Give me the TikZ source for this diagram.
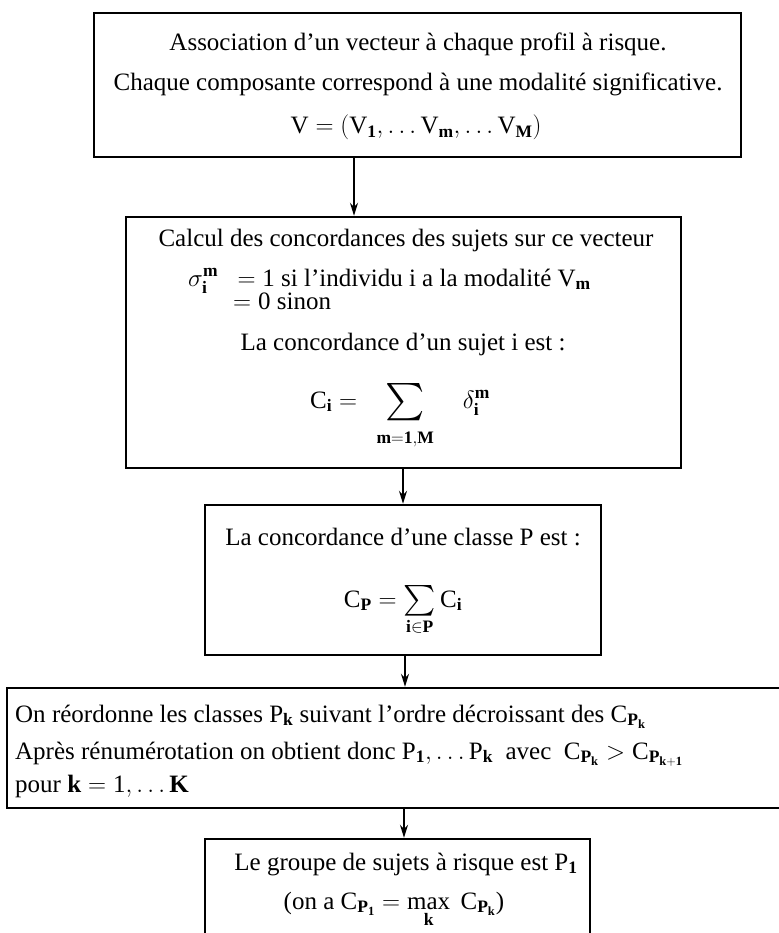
\RequirePackage{fix-cm}
\documentclass[tikz,border=0pt]{standalone}
\usepackage{amsmath}
\usepackage{fontspec}
\setmainfont{Liberation Serif}
\usetikzlibrary{arrows.meta}
\tikzset{
	boite/.style={draw, line width=2.4pt, inner sep=0pt},
	texte/.style={font=\fontsize{25}{29}\selectfont, inner sep=0pt, anchor=base},
	gauche/.style={texte, anchor=base west},
	fleche/.style={-{Stealth[length=13pt, width=8pt]}, line width=1.8pt},
}
\newcommand{\bsub}[1]{\mathbf{#1}}
\newcommand{\somme}[1]{\mathop{\vcenter{\hbox{\resizebox{!}{#1}{$\sum$}}}}}

\begin{document}
\begin{tikzpicture}[x=1pt, y=-1pt]
	\useasboundingbox (0,0) rectangle (778,933);
	% cadres
	\node[boite, minimum width=647pt, minimum height=144pt] (vecteur) at (417.5,85) {};
	\node[boite, minimum width=555pt, minimum height=251pt] (concord) at (403.5,342.5) {};
	\node[boite, minimum width=396pt, minimum height=150pt] (classeP) at (403,580) {};
	\node[boite, minimum width=793pt, minimum height=120pt] (reordre) at (403.5,748) {};
	\node[boite, minimum width=385pt, minimum height=111pt] (groupeP) at (397.5,894.5) {};
	% textes
	\node[texte] (t-assoc) at (418,51) {Association d’un vecteur à chaque profil à risque.};
	\node[texte] (t-chaque) at (418,91) {Chaque composante correspond à une modalité significative.};
	\node[texte] (t-vdef) at (416,134) {$\mathrm{V} = (\mathrm{V}_{\bsub{1}}, \ldots\mathrm{V}_{\bsub{m}}, \ldots\mathrm{V}_{\bsub{M}})$};
	\node[texte] (t-calcul) at (406,247) {Calcul des concordances des sujets sur ce vecteur};
	\node[gauche] (t-sigma) at (188,286) {$\sigma_{\bsub{i}}^{\bsub{m}}\ \ = \mathrm{1}$\ si l’individu i a la modalité $\mathrm{V}_{\bsub{m}}$};
	\node[gauche] (t-sinon) at (233,309) {$= \mathrm{0}$ sinon};
	\node[texte] (t-sujet) at (403,350) {La concordance d’un sujet i est :};
	\node[texte] (t-ci) at (400,408) {$\mathrm{C}_{\bsub{i}} = \ \ \somme{28pt}\limits_{\lower8pt\hbox{$\scriptstyle\bsub{m}=\bsub{1},\bsub{M}$}} \quad \delta_{\bsub{i}}^{\bsub{m}}$};
	\node[texte] (t-classe) at (403,545) {La concordance d’une classe P est :};
	\node[texte] (t-cp) at (403,607) {$\mathrm{C}_{\bsub{P}} = \somme{23pt}\limits_{\bsub{i}\in\bsub{P}} \mathrm{C}_{\bsub{i}}$};
	\node[gauche] (t-reord) at (15,722) {On réordonne les classes $\mathrm{P}_{\bsub{k}}$ suivant l’ordre décroissant des $\mathrm{C}_{\bsub{P}_{\bsub{k}}}$};
	\node[gauche] (t-renum) at (15,759) {Après rénumérotation on obtient donc $\mathrm{P}_{\bsub{1}}, \ldots \mathrm{P}_{\bsub{k}}$\ \ avec\ \ $\mathrm{C}_{\bsub{P}_{\bsub{k}}} > \mathrm{C}_{\bsub{P}_{\bsub{k+1}}}$};
	\node[gauche] (t-pourk) at (15,792) {pour $\bsub{k} = \mathrm{1}, \ldots \bsub{K}$};
	\node[texte] (t-groupe) at (406,870) {Le groupe de sujets à risque est $\mathrm{P}_{\bsub{1}}$};
	\node[texte] (t-max) at (394,909) {(on a $\mathrm{C}_{\bsub{P}_{\bsub{1}}} = \max\limits_{\bsub{k}}\ \mathrm{C}_{\bsub{P}_{\bsub{k}}}$)};
	% fleches
	\coordinate (f1) at (354,0);
	\coordinate (f2) at (403,0);
	\coordinate (f3) at (405,0);
	\coordinate (f4) at (404,0);
	\draw[fleche] (vecteur.south -| f1) -- (concord.north -| f1);
	\draw[fleche] (concord.south -| f2) -- (classeP.north -| f2);
	\draw[fleche] (classeP.south -| f3) -- (reordre.north -| f3);
	\draw[fleche] (reordre.south -| f4) -- (groupeP.north -| f4);
\end{tikzpicture}
\end{document}
